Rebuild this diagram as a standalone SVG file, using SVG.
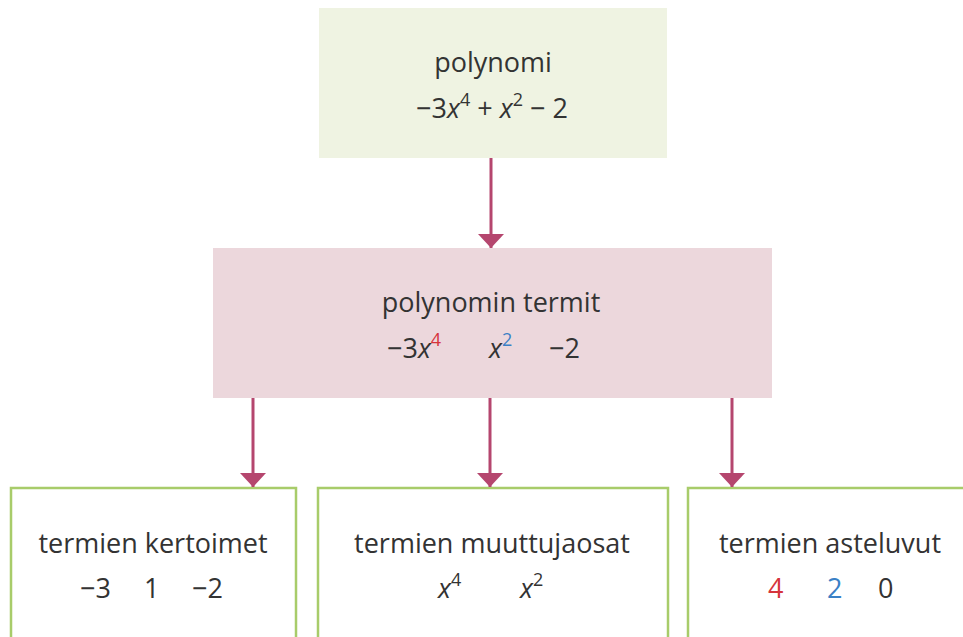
<svg xmlns="http://www.w3.org/2000/svg" width="963" height="637" viewBox="0 0 963 637">
<defs>
<style>
text{font-family:"Open Sans","Liberation Sans",sans-serif;font-size:27px;fill:#333;}
.m{text-anchor:middle;}
.i{font-style:italic;}
.s{font-size:18px;}
.r{fill:#d6343c;}
.b{fill:#3a80c6;}
.box{fill:#fff;stroke:#a8cc6a;stroke-width:2.5;}
.con{stroke:#b5466e;stroke-width:3;fill:none;}
</style>
<marker id="ah" viewBox="0 0 14 26" refX="14" refY="13" markerWidth="14" markerHeight="26" markerUnits="userSpaceOnUse" orient="auto">
<path d="M0,0 L14,13 L0,26 Z" fill="#b5466e"/>
</marker>
</defs>
<rect width="963" height="637" fill="#fff"/>
<g id="n-polynomi">
<rect x="319" y="8" width="348" height="150" fill="#eff3e2"/>
<text x="493" y="72" class="m">polynomi</text>
<text x="492" y="118" class="m">−3<tspan class="i">x</tspan><tspan class="s" dy="-12">4</tspan><tspan dy="12"> + </tspan><tspan class="i">x</tspan><tspan class="s" dy="-12">2</tspan><tspan dy="12"> − 2</tspan></text>
</g>
<g id="n-termit">
<rect x="213" y="248" width="559" height="150" fill="#ecd7dc"/>
<text x="491" y="312" class="m">polynomin termit</text>
<text x="387" y="358">−3<tspan class="i">x</tspan><tspan class="s r" dy="-12">4</tspan></text>
<text x="489" y="358"><tspan class="i">x</tspan><tspan class="s b" dy="-12">2</tspan></text>
<text x="549" y="358">−2</text>
</g>
<g id="n-kertoimet">
<rect x="11" y="488" width="285" height="160" class="box"/>
<text x="153" y="553" class="m">termien kertoimet</text>
<text x="80" y="598">−3</text>
<text x="144" y="598">1</text>
<text x="192" y="598">−2</text>
</g>
<g id="n-muuttujaosat">
<rect x="318" y="488" width="350" height="160" class="box"/>
<text x="492" y="553" class="m">termien muuttujaosat</text>
<text x="438" y="598"><tspan class="i">x</tspan><tspan class="s" dy="-12">4</tspan></text>
<text x="520" y="598"><tspan class="i">x</tspan><tspan class="s" dy="-12">2</tspan></text>
</g>
<g id="n-asteluvut">
<rect x="688" y="488" width="290" height="160" class="box"/>
<text x="830" y="553" class="m">termien asteluvut</text>
<text x="768" y="598" class="r">4</text>
<text x="827" y="598" class="b">2</text>
<text x="878" y="598">0</text>
</g>
<g id="connectors">
<line x1="491" y1="158" x2="491" y2="248" class="con" marker-end="url(#ah)"/>
<line x1="253" y1="398" x2="253" y2="487" class="con" marker-end="url(#ah)"/>
<line x1="490" y1="398" x2="490" y2="487" class="con" marker-end="url(#ah)"/>
<line x1="732" y1="398" x2="732" y2="487" class="con" marker-end="url(#ah)"/>
</g>
</svg>
